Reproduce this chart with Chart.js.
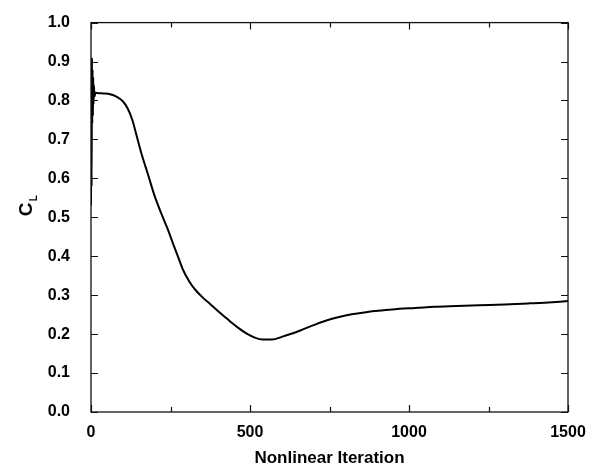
<!DOCTYPE html>
<html>
<head>
<meta charset="utf-8">
<script src="https://cdn.jsdelivr.net/npm/chart.js@4"></script>
<style>
  html, body { margin: 0; padding: 0; background: #fff; }
  #wrap { width: 594px; height: 473px; }
</style>
</head>
<body>
<div id="wrap"><canvas id="clChart" width="594" height="473"></canvas></div>
<script>
// lift coefficient history vs nonlinear iteration
const iterations = [
  0, 1, 2, 3, 4, 5, 6, 7, 8, 9, 11, 14,
  20, 40, 60, 80, 100, 115, 130, 145, 160, 180, 200, 220, 240, 260, 275, 290,
  310, 330, 350, 375, 400, 430, 460, 490, 515, 540, 570, 600, 630, 660,
  700, 740, 780, 820, 870, 920, 970, 1020, 1080, 1150, 1220, 1300, 1380, 1450, 1500
];
const liftCoeff = [
  0.53, 0.69, 0.58, 0.91, 0.74, 0.88, 0.76, 0.86, 0.79, 0.84, 0.81, 0.82,
  0.819, 0.818, 0.816, 0.810, 0.798, 0.780, 0.750, 0.705, 0.660, 0.608, 0.555, 0.512, 0.472, 0.428, 0.396, 0.364,
  0.334, 0.312, 0.295, 0.277, 0.259, 0.238, 0.218, 0.201, 0.191, 0.186, 0.186, 0.193, 0.201, 0.210,
  0.223, 0.235, 0.244, 0.251, 0.257, 0.261, 0.265, 0.267, 0.270, 0.272, 0.274, 0.276, 0.279, 0.282, 0.285
];

const xMajorTicks = [0, 500, 1000, 1500];
const xMinorTicks = [250, 750, 1250];
const yTicks = [0, 0.1, 0.2, 0.3, 0.4, 0.5, 0.6, 0.7, 0.8, 0.9, 1.0];

const FONT = "'Liberation Sans', Arial, sans-serif";

// frame, inward ticks on all four sides, and the rotated C_L label
const framePlugin = {
  id: "frame",
  afterDatasetsDraw(chart) {
    const { ctx, chartArea: a, scales } = chart;
    ctx.save();
    ctx.strokeStyle = "#111";
    ctx.lineWidth = 1.3;
    ctx.strokeRect(a.left, a.top, a.right - a.left, a.bottom - a.top);

    ctx.beginPath();
    const tickX = (v, len) => {
      const px = Math.round(scales.x.getPixelForValue(v)) + 0.5;
      ctx.moveTo(px, a.bottom); ctx.lineTo(px, a.bottom - len);
      ctx.moveTo(px, a.top); ctx.lineTo(px, a.top + len);
    };
    xMajorTicks.forEach(v => tickX(v, 7));
    xMinorTicks.forEach(v => tickX(v, 5));
    yTicks.forEach(v => {
      const py = Math.round(scales.y.getPixelForValue(v)) + 0.5;
      ctx.moveTo(a.left, py); ctx.lineTo(a.left + 7, py);
      ctx.moveTo(a.right, py); ctx.lineTo(a.right - 7, py);
    });
    ctx.lineWidth = 1.2;
    ctx.stroke();
    ctx.restore();
  },
  afterDraw(chart) {
    const { ctx, chartArea: a } = chart;
    ctx.save();
    ctx.translate(27, (a.top + a.bottom) / 2 - 9);
    ctx.rotate(-Math.PI / 2);
    ctx.fillStyle = "#000";
    ctx.textBaseline = "middle";
    ctx.textAlign = "left";
    ctx.font = "bold 19px " + FONT;
    ctx.fillText("C", -8, 0);
    ctx.font = "bold 10px " + FONT;
    ctx.fillText("L", 7, 7);
    ctx.restore();
  }
};

new Chart(document.getElementById("clChart"), {
  type: "line",
  data: {
    datasets: [{
      data: iterations.map((x, i) => ({ x: x, y: liftCoeff[i] })),
      borderColor: "#000",
      borderWidth: 2,
      pointRadius: 0,
      cubicInterpolationMode: "monotone",
      fill: false
    }]
  },
  options: {
    responsive: false,
    devicePixelRatio: 1,
    animation: false,
    layout: { padding: { top: 15, right: 26, left: 0, bottom: 0 } },
    plugins: { legend: { display: false }, tooltip: { enabled: false } },
    scales: {
      x: {
        type: "linear",
        min: 0,
        max: 1500,
        afterBuildTicks: (scale) => { scale.ticks = xMajorTicks.map(v => ({ value: v })); },
        afterFit: (scale) => { scale.height = 61; },
        grid: { display: false },
        border: { display: false },
        ticks: {
          color: "#000",
          padding: 3,
          maxRotation: 0,
          callback: (v) => String(v),
          font: { family: FONT, size: 16, weight: "bold" }
        },
        title: {
          display: true,
          text: "Nonlinear Iteration",
          color: "#000",
          padding: { top: 4 },
          font: { family: FONT, size: 17, weight: "bold" }
        }
      },
      y: {
        min: 0,
        max: 1,
        afterBuildTicks: (scale) => { scale.ticks = yTicks.map(v => ({ value: v })); },
        afterFit: (scale) => { scale.width = 91; },
        grid: { display: false },
        border: { display: false },
        ticks: {
          color: "#000",
          padding: 13,
          callback: (v) => v.toFixed(1),
          font: { family: FONT, size: 16, weight: "bold" }
        }
      }
    }
  },
  plugins: [framePlugin]
});
</script>
</body>
</html>
